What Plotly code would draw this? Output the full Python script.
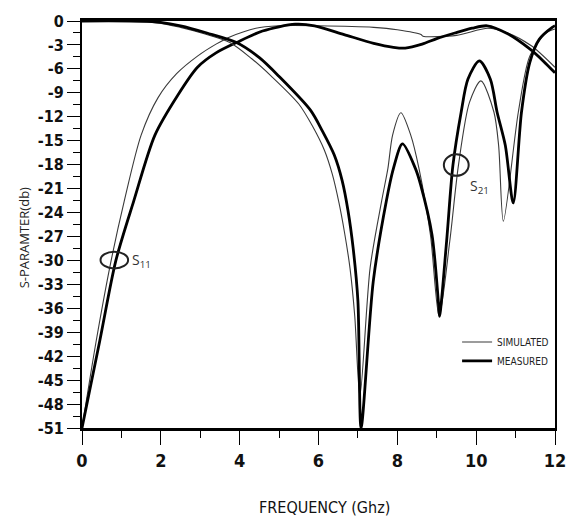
import plotly.graph_objects as go

# ---- data ----
s11_sim_f = [0, 0.36, 0.74, 1.07, 1.5, 1.93, 2.4, 2.93, 3.4, 3.75, 4.41, 5.0, 6.0, 7.4, 8.0, 8.6, 8.65, 9.5, 10.3, 10.8, 11.4, 12]
s11_sim_db = [-51, -40.1, -30, -22.6, -14.3, -9.6, -6.6, -4.4, -2.9, -2.0, -0.9, -0.6, -0.6, -0.8, -1.1, -1.7, -1.9, -1.8, -0.9, -1.5, -3.1, -5.8]

s11_meas_f = [0, 0.45, 0.86, 1.31, 1.85, 2.43, 2.93, 3.4, 3.92, 4.58, 5.41, 5.9, 6.65, 7.4, 7.9, 8.2, 8.63, 9.0, 9.46, 9.9, 10.28, 10.8, 11.36, 11.7, 12]
s11_meas_db = [-51, -40.1, -30, -22.6, -14.3, -9.3, -5.8, -4.0, -2.7, -1.25, -0.4, -0.6, -1.7, -2.8, -3.3, -3.4, -2.9, -2.2, -1.5, -0.9, -0.6, -1.6, -3.5, -5.0, -6.5]

s21_sim_f = [0, 1.85, 2.5, 3.1, 3.75, 4.3, 4.8, 5.5, 5.85, 6.15, 6.35, 6.52, 6.66, 6.8, 6.92, 7.05, 7.31, 7.6, 7.76, 7.88, 8.09, 8.34, 8.55, 8.84, 9.06, 9.33, 9.55, 9.83, 10.12, 10.45, 10.57, 10.69, 11.07, 11.36, 11.77, 12]
s21_sim_db = [0, -0.2, -0.8, -1.6, -2.7, -4.7, -6.9, -10.4, -13.2, -16.2, -19.2, -22.8, -26.5, -31, -37, -47, -30.9, -22.6, -18.5, -14.3, -11.5, -14.3, -18.5, -26.8, -37, -27.6, -18.1, -10.2, -7.5, -11.4, -15.6, -25.1, -11.4, -4.4, -1.5, -1.0]

s21_meas_f = [0, 1.85, 2.5, 3.17, 3.92, 4.5, 4.99, 5.8, 6.1, 6.4, 6.6, 6.75, 6.88, 7.0, 7.08, 7.39, 7.72, 7.9, 8.13, 8.46, 8.59, 8.88, 9.04, 9.07, 9.25, 9.41, 9.62, 9.79, 10.08, 10.36, 10.53, 10.74, 10.94, 11.15, 11.36, 11.6, 11.93, 12]
s21_meas_db = [0, -0.1, -0.6, -1.5, -2.7, -4.6, -6.9, -11.2, -13.8, -16.8, -20.0, -23.8, -28.5, -35.1, -51, -32.6, -22.6, -18.5, -15.4, -18.5, -20.5, -26.8, -35.1, -37, -27.6, -18.1, -11.4, -7.3, -5.0, -7.3, -11.4, -15.6, -22.8, -11.4, -5.2, -2.3, -0.8, -0.6]

y_tickvals = list(range(-51, 1, 3))
y_ticktext = [str(v) for v in y_tickvals]
x_tickvals = [0, 2, 4, 6, 8, 10, 12]
x_ticktext = [str(v) for v in x_tickvals]

NARROW = "Liberation Sans Narrow, Arial Narrow, DejaVu Sans Condensed, sans-serif"
THIN = dict(color="#3a3a3a", width=1.1, shape="spline", smoothing=0.8)
THICK = dict(color="black", width=2.8, shape="spline", smoothing=0.8)

fig = go.Figure()
fig.add_trace(go.Scatter(x=s11_sim_f, y=s11_sim_db, mode="lines", line=THIN, name="SIMULATED", showlegend=True))
fig.add_trace(go.Scatter(x=s11_meas_f, y=s11_meas_db, mode="lines", line=THICK, name="MEASURED", showlegend=True))
fig.add_trace(go.Scatter(x=s21_sim_f, y=s21_sim_db, mode="lines", line=THIN, name="S21 sim", showlegend=False))
fig.add_trace(go.Scatter(x=s21_meas_f, y=s21_meas_db, mode="lines", line=THICK, name="S21 meas", showlegend=False))

fig.update_layout(
    width=578, height=519,
    margin=dict(l=82, r=12, t=18, b=91),
    plot_bgcolor="white", paper_bgcolor="white",
    showlegend=True,
    legend=dict(x=0.793, y=0.247, xanchor="left", yanchor="top",
                bgcolor="rgba(0,0,0,0)", borderwidth=0,
                font=dict(family=NARROW, size=10, color="#222"),
                tracegroupgap=0),
)
fig.update_xaxes(
    range=[0, 12], tickmode="array", tickvals=x_tickvals, ticktext=x_ticktext,
    showgrid=False, zeroline=False,
    showline=True, linecolor="black", linewidth=3, mirror=True,
    ticks="outside", ticklen=14, tickwidth=1.3, tickcolor="black",
    minor=dict(dtick=1, tick0=0, ticks="outside", ticklen=7, tickwidth=1.3, tickcolor="black", showgrid=False),
    tickfont=dict(family=NARROW, size=18, color="#111", weight="bold"),
)
fig.update_yaxes(
    range=[-51, 0], tickmode="array", tickvals=y_tickvals, ticktext=y_ticktext,
    showgrid=False, zeroline=False,
    showline=True, linecolor="black", linewidth=2, mirror=True,
    ticks="outside", ticklen=13, tickwidth=1.3, tickcolor="black",
    minor=dict(dtick=1.5, tick0=0, ticks="outside", ticklen=7, tickwidth=1.3, tickcolor="black", showgrid=False),
    tickfont=dict(family=NARROW, size=16, color="#111", weight="bold"),
)

# axis titles
fig.add_annotation(text="FREQUENCY (Ghz)", xref="paper", yref="paper", x=0.512, y=-0.196,
                   showarrow=False, xanchor="center", yanchor="middle",
                   font=dict(family=NARROW, size=16, color="#111"))
fig.add_annotation(text="S-PARAMTER(db)", xref="paper", yref="paper", x=-0.123, y=0.468,
                   showarrow=False, textangle=-90, xanchor="center", yanchor="middle",
                   font=dict(family="Open Sans, sans-serif", size=13, color="#222"))

# curve labels with ellipses
fig.add_annotation(text="S<sub>11</sub>", x=1.5, y=-30, showarrow=False,
                   xanchor="center", yanchor="middle",
                   font=dict(family="Open Sans, sans-serif", size=14, color="#333"))
fig.add_annotation(text="S<sub>21</sub>", x=10.08, y=-20.75, showarrow=False,
                   xanchor="center", yanchor="middle",
                   font=dict(family="Open Sans, sans-serif", size=14, color="#333"))
fig.add_shape(type="circle", xref="x", yref="y", x0=0.47, x1=1.17, y0=-31.0, y1=-28.9,
              line=dict(color="#222", width=2))
fig.add_shape(type="circle", xref="x", yref="y", x0=9.18, x1=9.81, y0=-19.4, y1=-16.7,
              line=dict(color="#222", width=2))

fig.write_html("out.html")
